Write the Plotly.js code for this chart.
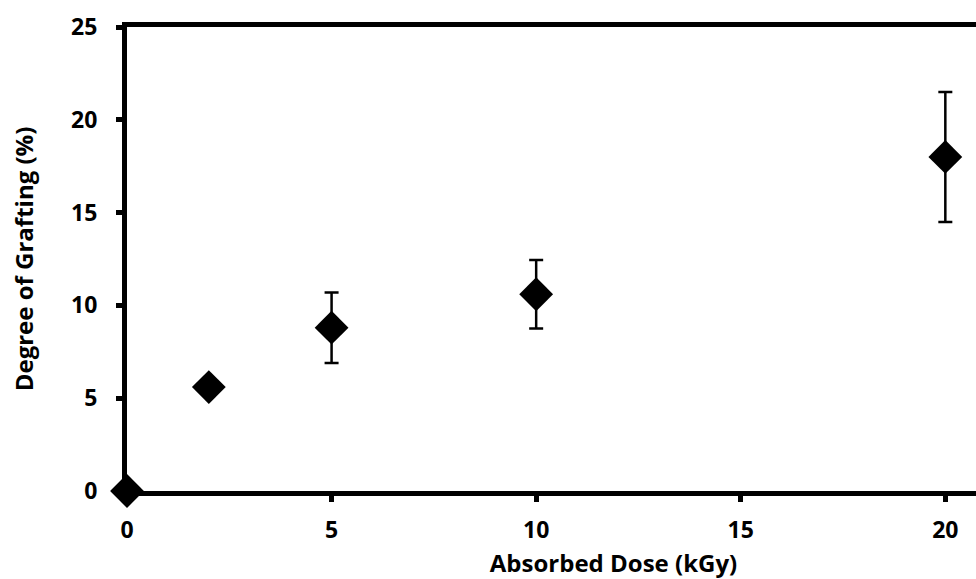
<!DOCTYPE html>
<html><head><meta charset="utf-8">
<script src="https://cdn.plot.ly/plotly-3.0.1.min.js"></script>
<style>html,body{margin:0;padding:0;overflow:hidden;background:#fff;}</style>
</head><body>
<div id="chart"></div>
<script>
const dose = [0, 2, 5, 10, 20];
const grafting = [0, 5.6, 8.8, 10.6, 18.0];
const errors = [0, 0, 1.9, 1.85, 3.5];
const xTicks = [0, 5, 10, 15, 20];
const yTicks = [0, 5, 10, 15, 20, 25];

const font = "Open Sans, Liberation Sans, sans-serif";
Plotly.newPlot('chart', [{
  x: dose, y: grafting, type: 'scatter', mode: 'markers',
  marker: {symbol: 'diamond', size: 26, color: '#000'},
  error_y: {type: 'data', array: errors.map(e => e || null), visible: true, color: '#000', thickness: 2.5, width: 7},
  cliponaxis: false, hoverinfo: 'none'
}], {
  width: 1100, height: 579,
  margin: {l: 127, r: 0, t: 27, b: 88},
  paper_bgcolor: '#fff', plot_bgcolor: '#fff',
  showlegend: false,
  font: {family: font, color: '#000'},
  xaxis: {
    range: [0, 23.78], tickvals: xTicks, ticktext: xTicks.map(v => '<b>' + v + '</b>'),
    showgrid: false, zeroline: false, showline: true, linewidth: 5, linecolor: '#000',
    mirror: true, ticks: 'outside', ticklen: 6, tickwidth: 5, tickcolor: '#000',
    tickfont: {size: 23, family: font},
    ticklabelstandoff: 8,
    title: {text: '<b>Absorbed Dose (kGy)</b>', font: {size: 24, family: font}, standoff: 15},
    layer: 'below traces'
  },
  yaxis: {
    range: [0, 25], tickvals: yTicks, ticktext: yTicks.map(v => '<b>' + v + '</b>'),
    showgrid: false, zeroline: false, showline: true, linewidth: 5, linecolor: '#000',
    mirror: true, ticks: 'outside', ticklen: 6, tickwidth: 5, tickcolor: '#000',
    tickfont: {size: 23, family: font},
    ticklabelstandoff: 14,
    title: {text: '<b>Degree of Grafting (%)</b>', font: {size: 24, family: font}, standoff: 32},
    layer: 'below traces'
  }
}, {staticPlot: true});
</script>
</body></html>
